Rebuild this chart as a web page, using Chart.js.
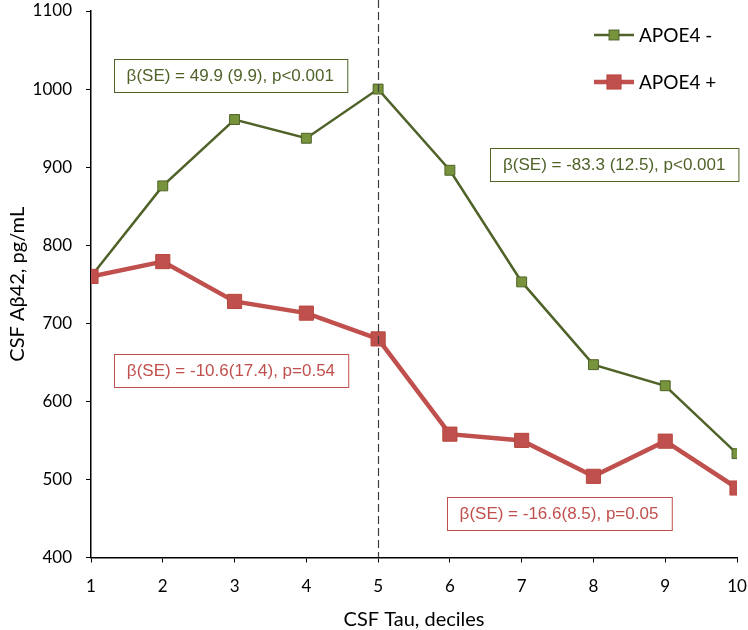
<!DOCTYPE html>
<html>
<head>
<meta charset="utf-8">
<script src="https://cdn.jsdelivr.net/npm/chart.js@4.4.1/dist/chart.umd.min.js"></script>
<style>
  body { margin: 0; background: #fff; }
  #wrap { width: 748px; height: 630px; }
</style>
</head>
<body>
<div id="wrap"><canvas id="tauChart" width="748" height="630"></canvas></div>
<script>
// deciles of CSF tau
const deciles = [1, 2, 3, 4, 5, 6, 7, 8, 9, 10];
// CSF Abeta42 (pg/mL) by decile
const apoe4Neg = [760, 876, 961, 937, 1000, 896, 753, 647, 620, 533];
const apoe4Pos = [760, 779, 728, 713, 680, 558, 550, 504, 549, 489];
const seriesNames = ['APOE4 -', 'APOE4 +'];
// y axis range / ticks
const yMin = 400, yMax = 1100, yStep = 100;
// regression text boxes
const betaLabels = [
    'β(SE) = 49.9 (9.9), p<0.001',
    'β(SE) = -83.3 (12.5), p<0.001',
    'β(SE) = -10.6(17.4), p=0.54',
    'β(SE) = -16.6(8.5), p=0.05'
];
const splitDecile = 5;

const GREEN = '#4F6228';
const GREEN_FILL = '#77933C';
const RED = '#C0504D';
const titleFont = { family: 'Lato', size: 20, lineHeight: 1 };

// vertical dashed line at decile 5
const splitLine = {
    id: 'splitLine',
    afterDatasetsDraw(chart) {
        const { ctx, chartArea, scales } = chart;
        const x = Math.round(scales.x.getPixelForValue(splitDecile)) + 0.5;
        ctx.save();
        ctx.strokeStyle = '#404040';
        ctx.lineWidth = 1.2;
        ctx.setLineDash([8, 4]);
        ctx.beginPath();
        ctx.moveTo(x, 0);
        ctx.lineTo(x, chartArea.bottom);
        ctx.stroke();
        ctx.restore();
    }
};

// boxed beta annotations, anchored in data units
const betaBoxes = {
    id: 'betaBoxes',
    afterDraw(chart, args, opts) {
        const { ctx, scales } = chart;
        ctx.save();
        ctx.font = '17px "Liberation Sans", Arial, sans-serif';
        ctx.textAlign = 'center';
        ctx.textBaseline = 'middle';
        opts.boxes.forEach((b, i) => {
            const cx = scales.x.getPixelForValue(b.x);
            const cy = scales.y.getPixelForValue(b.y);
            const w = ctx.measureText(betaLabels[i]).width + 26;
            const h = 33;
            const left = Math.round(cx - w / 2) + 0.5;
            const top = Math.round(cy - h / 2) + 0.5;
            ctx.fillStyle = '#fff';
            ctx.fillRect(left, top, w, h);
            ctx.strokeStyle = b.color;
            ctx.lineWidth = 1;
            ctx.strokeRect(left, top, w, h);
            ctx.fillStyle = b.color;
            ctx.fillText(betaLabels[i], cx, cy + 1);
        });
        ctx.restore();
    }
};

// legend at the top right, like the Excel one
const sideLegend = {
    id: 'sideLegend',
    afterDraw(chart, args, opts) {
        const { ctx } = chart;
        ctx.save();
        chart.data.datasets.forEach((ds, i) => {
            const y = opts.y + i * opts.gap;
            ctx.strokeStyle = ds.borderColor;
            ctx.lineWidth = ds.borderWidth;
            ctx.beginPath();
            ctx.moveTo(opts.x, y);
            ctx.lineTo(opts.x + 40, y);
            ctx.stroke();
            const s = ds.pointRadius * Math.SQRT1_2;
            ctx.fillStyle = ds.pointBackgroundColor;
            ctx.fillRect(opts.x + 20 - s, y - s, 2 * s, 2 * s);
            ctx.strokeStyle = ds.pointBorderColor;
            ctx.lineWidth = 1;
            ctx.strokeRect(opts.x + 20 - s, y - s, 2 * s, 2 * s);
            ctx.fillStyle = '#000';
            ctx.font = '19px Lato';
            ctx.textBaseline = 'middle';
            ctx.fillText(ds.label, opts.x + 45, y + 1);
        });
        ctx.restore();
    }
};

new Chart(document.getElementById('tauChart'), {
    type: 'line',
    data: {
        datasets: [
            {
                label: seriesNames[0],
                data: deciles.map((d, i) => ({ x: d, y: apoe4Neg[i] })),
                borderColor: GREEN,
                borderWidth: 2.5,
                pointStyle: 'rect',
                pointRadius: 7,
                pointBackgroundColor: GREEN_FILL,
                pointBorderColor: GREEN,
                pointBorderWidth: 1,
                tension: 0,
                order: 1
            },
            {
                label: seriesNames[1],
                data: deciles.map((d, i) => ({ x: d, y: apoe4Pos[i] })),
                borderColor: RED,
                borderWidth: 4.5,
                pointStyle: 'rect',
                pointRadius: 10,
                pointBackgroundColor: RED,
                pointBorderColor: '#B8483F',
                pointBorderWidth: 1,
                tension: 0,
                order: 0
            }
        ]
    },
    options: {
        responsive: false,
        animation: false,
        layout: { padding: { top: 9, right: 11, left: 0, bottom: 0 } },
        plugins: {
            legend: { display: false },
            tooltip: { enabled: false },
            sideLegend: { x: 594, y: 35, gap: 47 },
            betaBoxes: {
                boxes: [
                    { x: 2.94, y: 1017, color: GREEN },
                    { x: 8.29, y: 903, color: GREEN },
                    { x: 2.95, y: 640, color: RED },
                    { x: 7.52, y: 456, color: RED }
                ]
            }
        },
        scales: {
            x: {
                type: 'linear',
                min: deciles[0],
                max: deciles[deciles.length - 1],
                ticks: { stepSize: 1, color: '#000', font: { family: 'Lato', size: 17 }, padding: 14 },
                grid: { drawOnChartArea: false, tickLength: 5, color: '#000' },
                border: { color: '#000', width: 1.5 },
                title: { display: true, text: 'CSF Tau, deciles', color: '#000', font: titleFont, padding: { top: 4, bottom: 0 } },
                afterFit(s) {
                    s.height = 72.5;
                    s.paddingLeft = 0;
                    s.paddingRight = 0;
                }
            },
            y: {
                min: yMin,
                max: yMax,
                ticks: { stepSize: yStep, color: '#000', font: { family: 'Lato', size: 17 }, padding: 14, callback: v => String(v) },
                grid: { drawOnChartArea: false, tickLength: 5, color: '#000' },
                border: { color: '#000', width: 1.5 },
                title: { display: true, text: 'CSF Aβ42, pg/mL', color: '#000', font: titleFont, padding: { top: 8, bottom: 0 } },
                afterFit(s) {
                    s.width = 91;
                    s.paddingTop = 0;
                    s.paddingBottom = 0;
                }
            }
        }
    },
    plugins: [splitLine, betaBoxes, sideLegend]
});
</script>
</body>
</html>
